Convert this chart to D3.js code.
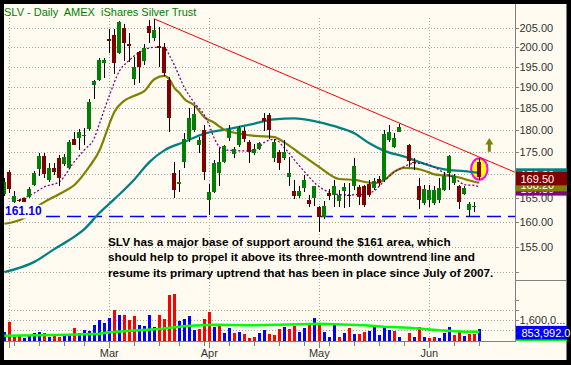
<!DOCTYPE html>
<html>
<head>
<meta charset="utf-8">
<script src="https://cdn.jsdelivr.net/npm/d3@7/dist/d3.min.js"></script>
<style>
html,body{margin:0;padding:0;background:#000;overflow:hidden;}
svg{display:block;font-family:"Liberation Sans",Arial,sans-serif;}
</style>
</head>
<body>
<svg id="chart" width="571" height="365"></svg>
<script>
// ---------------- data ----------------
const titleText = "SLV - Daily  AMEX  iShares Silver Trust";
// daily bars 31 Jan 2008 .. 16 Jun 2008 (index 80 = Memorial Day, empty)
const openP = [165.8,170.6,164.1,164.6,164.9,165.1,167.7,171.2,174.1,168.8,
 171.4,173.6,172.3,171.4,177.8,178.1,178.5,180.1,190.6,191.8,
 196.0,202.2,203.1,198.5,204.9,200.8,192.0,198.9,196.5,205.6,
 202.5,200.4,200.2,191.8,170.3,167.9,172.8,177.8,179.9,176.5,
 179.9,164.6,166.2,170.3,172.8,178.0,174.4,176.5,179.7,177.1,
 174.8,175.6,182.7,183.4,173.6,175.0,173.6,169.5,166.4,165.4,
 167.0,164.5,164.9,163.0,160.9,166.0,165.6,164.4,166.5,165.6,
 167.4,167.2,167.4,167.9,167.0,169.0,168.8,177.6,176.1,179.5,
 null,176.5,172.8,167.4,163.9,164.5,163.9,164.5,166.7,170.3,
 168.1,167.4,165.8,162.5,163.0,172.8];
const highP = [169.2,171.0,166.4,164.8,165.0,167.3,170.8,174.7,174.7,172.5,
 172.5,174.3,174.5,177.6,179.4,180.1,180.4,187.2,191.8,197.2,
 197.4,204.7,204.7,206.8,206.0,203.6,197.6,199.1,200.8,207.1,
 207.4,205.3,201.1,192.5,172.8,171.0,179.2,185.0,185.6,178.4,
 181.1,168.0,173.2,175.8,176.5,181.1,176.1,180.8,180.6,177.6,
 176.8,177.2,183.9,183.9,177.8,175.4,177.6,173.9,168.8,167.5,
 169.9,165.6,167.5,163.2,164.3,166.8,168.8,166.6,168.1,168.1,
 173.6,167.7,167.7,168.8,169.2,169.7,179.9,181.1,179.2,181.3,
 null,176.8,173.6,169.2,167.7,167.7,167.5,169.2,170.6,174.3,
 170.1,167.7,167.4,164.0,164.0,173.6];
const lowP = [165.4,166.0,163.9,164.2,164.0,164.9,167.5,169.7,169.2,168.4,
 169.9,167.5,171.9,171.2,176.5,175.4,176.6,179.7,187.2,191.6,
 192.4,198.5,193.2,198.2,196.5,196.4,190.7,191.1,195.4,201.1,
 201.5,195.0,192.8,179.5,164.9,166.2,171.4,177.2,179.5,174.7,
 168.8,161.4,166.1,167.4,172.5,177.4,173.6,176.1,177.1,172.5,
 174.3,175.4,179.7,177.8,172.8,171.0,173.2,167.4,164.7,164.9,
 166.2,163.0,163.2,157.9,160.6,164.5,163.0,163.0,162.8,163.0,
 166.6,163.5,163.0,165.2,166.6,167.5,168.4,177.1,175.8,179.4,
 null,171.7,171.0,162.7,163.5,163.0,163.5,163.9,166.4,166.6,
 167.7,162.7,165.6,161.0,162.0,168.8];
const closeP = [168.4,166.8,165.4,164.4,164.1,166.8,170.3,174.1,170.1,171.4,
 170.6,169.3,173.9,177.2,176.6,179.4,178.7,186.4,191.6,196.8,
 196.8,201.5,196.0,206.6,201.1,200.3,195.1,195.1,199.7,203.8,
 204.5,199.7,193.5,182.7,166.6,168.4,177.8,182.6,183.6,177.6,
 170.6,166.2,172.6,172.8,176.3,180.2,175.5,180.3,177.8,175.0,
 175.6,177.0,182.0,179.9,177.1,172.5,175.0,170.3,165.4,166.4,
 168.8,163.7,167.4,161.0,163.2,165.4,167.5,165.5,167.3,165.4,
 171.9,165.2,163.5,165.6,168.6,168.2,179.1,179.4,178.0,180.6,
 null,173.0,172.5,164.5,166.8,166.6,166.6,167.0,169.7,174.1,
 169.7,164.1,167.0,163.6,163.2,169.5];
// volume in thousands of shares, and whether the day closed up (blue) or down (red)
const volumeK = [630,1440,230,360,150,360,550,630,550,230,
 310,230,310,450,960,550,800,720,1170,1600,
 1360,1770,2390,1990,1990,1580,1900,1170,1090,1990,
 1010,1990,1660,3600,3690,1500,1660,1900,770,850,
 1660,2250,1040,1170,500,910,500,580,420,150,
 200,500,740,420,360,850,1010,850,1090,580,
 910,1340,1740,1200,580,200,1230,200,520,910,
 420,420,580,690,1060,360,1060,770,690,200,
 0,520,200,1010,200,150,200,150,520,1010,
 360,600,310,450,450,853.992];
const volumeUp = [1,0,0,0,1,1,1,1,0,1, 0,0,1,1,0,1,1,1,1,1, 1,1,0,1,0,0,0,1,1,1,
 1,0,0,0,0,1,1,1,1,0, 0,0,1,0,1,1,0,1,0,0, 0,1,1,0,0,0,1,0,0,1,
 1,0,1,0,1,1,1,0,1,0, 1,0,0,1,1,1,1,1,0,1, 0,0,1,0,1,0,0,1,1,1, 0,0,1,0,0,1];
// moving averages (bar index, value)
const ma50Idx = [0,6,10,13,16,19,22,26,29,32,36,40,45,50,54,58,62,66,70,73,76,80,84,88,92,95];
const ma50 = [150.0,152.0,154.5,156.3,158.5,161.8,164.7,168.9,172.7,175.3,177.2,179.1,180.2,181.4,182.4,182.6,182.0,180.8,179.2,176.9,175.2,173.9,172.3,171.1,170.7,170.3];
const ma20Idx = [0,4,7,11,14,17,19,20,21,22,24,26,28,30,32,33,34,35,36,38,40,42,44,46,50,54,56,59,63,67,70,74,76,78,80,82,84,86,88,90,92,94,95];
const ma20 = [159.6,160.8,163.4,165.8,167.7,171.7,175.2,178.1,181.3,184.1,186.8,188.0,189.1,192.0,192.8,192.0,189.9,188.7,187.2,185.7,182.9,181.6,180.0,179.3,178.6,178.3,177.1,174.7,171.6,169.0,168.8,168.1,168.8,170.6,171.4,171.3,170.8,170.0,169.8,169.6,169.0,168.4,168.2];
const ma10Idx = [3,6,8,11,14,16,18,19,21,23,25,27,30,32,33,34,36,38,40,41,42,44,48,50,52,54,56,58,60,63,65,68,72,74,76,78,80,82,84,86,88,90,92,94,95];
const ma10 = [164.5,166.0,167.3,168.4,172.8,175.4,178.1,181.3,188.0,194.0,196.7,198.7,200.0,200.0,198.0,195.5,190.0,186.3,183.4,181.0,178.0,175.4,175.2,175.2,177.1,177.8,175.9,173.2,170.6,167.3,166.2,165.6,165.7,166.5,168.6,170.5,171.7,172.4,172.4,171.6,170.3,169.2,167.8,167.6,167.3];
const avgVolIdx = [0,13,19,21,26,31,34,37,42,49,55,63,69,72,76,81,84,87,92,95];
const avgVolK = [310,390,470,580,720,850,990,1120,1200,1150,1200,1280,1200,1150,1040,960,850,750,630,630];
// axes
const priceTicks = [150,155,160,165,170,175,180,185,190,195,200,205];
const priceTickShown = [0,1,1,1,0,1,1,1,1,1,1,1];
const volTicksK = [800,1600,2400,3200];
const volTickShown = [0,1,0,0];
const monthIdx = [1,21,41,63,85];
const monthLabels = ["","Mar","Apr","May","Jun"];
const weekIdx = [2,7,12,16,26,31,35,40,45,50,55,60,65,70,75,80,90,95];
// annotations
const supportLevel = 161.10;
const trendA = {i:30, p:207.4}, trendB = {i:95, p:173.8};
const arrowAt = {i:97, from:175.0, to:178.1};
const noteLines = ["SLV has a major base of support around the $161 area, which",
 "should help to propel it above its three-month downtrend line and",
 "resume its primary uptrend that has been in place since July of 2007."];

// ---------------- drawing ----------------
const W = 571, H = 365;
const plotL = 4, plotR = 515, plotT = 4, volBottom = 341;
const cream = "#fffbf0";
const svg = d3.select("#chart");
svg.append("rect").attr("width", W).attr("height", H).attr("fill", "#000");
svg.append("rect").attr("x", 4).attr("y", 4).attr("width", 562.5).attr("height", 356).attr("fill", cream);

const x = d3.scaleLinear().domain([0, 100]).range([4.33, 504.33]);
const y = d3.scaleLog().domain([155, 205]).range([246.6, 28]);
const yv = d3.scaleLinear().domain([0, 3200]).range([339.5, 300]);
const px = i => Math.round(x(i));

const defs = svg.append("defs");
defs.append("clipPath").attr("id", "plotClip")
  .append("rect").attr("x", plotL).attr("y", plotT).attr("width", plotR - plotL).attr("height", volBottom - plotT);

// grid
const grid = svg.append("g").attr("stroke", "#a4a4a4").attr("stroke-width", 1)
  .attr("stroke-dasharray", "1,2").attr("shape-rendering", "crispEdges");
priceTicks.forEach(t => { const yy = Math.round(y(t)) + 0.5;
  grid.append("line").attr("x1", 8).attr("x2", plotR).attr("y1", yy).attr("y2", yy); });
volTicksK.slice(0, 3).forEach(t => { const yy = Math.round(yv(t)) + 0.5;
  grid.append("line").attr("x1", 8).attr("x2", plotR).attr("y1", yy).attr("y2", yy); });
monthIdx.forEach(i => { const xx = px(i) + 0.5;
  grid.append("line").attr("x1", xx).attr("x2", xx).attr("y1", 18).attr("y2", volBottom); });

const g = svg.append("g").attr("clip-path", "url(#plotClip)");

// volume
const vol = volumeK.map((v, i) => ({i, v, up: volumeUp[i]})).filter(d => d.v > 0);
g.append("g").attr("shape-rendering", "crispEdges").selectAll("rect").data(vol).join("rect")
  .attr("x", d => px(d.i) - 1).attr("width", 3)
  .attr("y", d => Math.round(yv(d.v))).attr("height", d => volBottom - Math.round(yv(d.v)))
  .attr("fill", d => d.up ? "#0000ff" : "#ff0000");
g.append("path").datum(avgVolIdx.map((i, k) => [i, avgVolK[k]]))
  .attr("d", d3.line().x(d => x(d[0])).y(d => yv(d[1])))
  .attr("fill", "none").attr("stroke", "#00ff00").attr("stroke-width", 2.5);

// support line
const ys = y(supportLevel);
g.append("line").attr("x1", plotL).attr("x2", plotR).attr("y1", ys).attr("y2", ys)
  .attr("stroke", "#0000ff").attr("stroke-width", 1.5).attr("stroke-dasharray", "14,7");

// highlight ellipse around last bar
const last = closeP.length - 1;
g.append("ellipse").attr("cx", x(last)).attr("cy", (y(highP[last]) + y(lowP[last])) / 2)
  .attr("rx", 8.2).attr("ry", 10.8).attr("fill", "#ffff00").attr("stroke", "#ff00ff").attr("stroke-width", 2);

// moving averages
const maLine = d3.line().x(d => x(d[0])).y(d => y(d[1])).curve(d3.curveMonotoneX);
g.append("path").datum(ma50Idx.map((i, k) => [i, ma50[k]])).attr("d", maLine)
  .attr("fill", "none").attr("stroke", "#008080").attr("stroke-width", 2.3);
g.append("path").datum(ma20Idx.map((i, k) => [i, ma20[k]])).attr("d", maLine)
  .attr("fill", "none").attr("stroke", "#808000").attr("stroke-width", 2.2);
g.append("path").datum(ma10Idx.map((i, k) => [i, ma10[k]])).attr("d", maLine)
  .attr("fill", "none").attr("stroke", "#800080").attr("stroke-width", 1.3).attr("stroke-dasharray", "2,2");

// candles
const bars = closeP.map((c, i) => ({i, o: openP[i], h: highP[i], l: lowP[i], c})).filter(d => d.c !== null);
const cg = g.append("g").attr("shape-rendering", "crispEdges");
cg.selectAll("rect.w").data(bars).join("rect").attr("class", "w")
  .attr("x", d => px(d.i)).attr("width", 1)
  .attr("y", d => Math.round(y(d.h))).attr("height", d => Math.max(1, Math.round(y(d.l)) - Math.round(y(d.h))))
  .attr("fill", "#000");
cg.selectAll("rect.b").data(bars).join("rect").attr("class", "b")
  .attr("x", d => px(d.i) - 2).attr("width", 4)
  .attr("y", d => Math.round(y(Math.max(d.o, d.c))))
  .attr("height", d => Math.max(1, Math.round(y(Math.min(d.o, d.c))) - Math.round(y(Math.max(d.o, d.c)))))
  .attr("fill", d => d.c >= d.o ? "#008000" : "#800000");

// trend line extended to the axis
const tx1 = x(trendA.i), ty1 = y(trendA.p), tx2 = x(trendB.i), ty2 = y(trendB.p);
const slope = (ty2 - ty1) / (tx2 - tx1);
g.append("line").attr("x1", tx1).attr("y1", ty1).attr("x2", plotR).attr("y2", ty1 + slope * (plotR - tx1))
  .attr("stroke", "#ff0000").attr("stroke-width", 1);

// up arrow
const ax = x(arrowAt.i), aTop = y(arrowAt.to), aBot = y(arrowAt.from);
g.append("rect").attr("x", ax - 1.5).attr("y", aTop + 5).attr("width", 3).attr("height", aBot - aTop - 5).attr("fill", "#808000");
g.append("path").attr("d", `M${ax},${aTop}L${ax + 4},${aTop + 6.5}L${ax - 4},${aTop + 6.5}Z`).attr("fill", "#808000");

// support label
const supTxt = d3.format(".2f")(supportLevel);
svg.append("rect").attr("x", 4).attr("y", ys - 11.5).attr("width", 38).attr("height", 13.5).attr("fill", cream);
svg.append("text").attr("x", 5).attr("y", ys - 1.5).attr("font-size", "12px").attr("font-weight", "bold")
  .attr("fill", "#0000ff").text(supTxt);

// right axis
const axisC = "#808080";
svg.append("line").attr("x1", plotR + 0.5).attr("x2", plotR + 0.5).attr("y1", plotT).attr("y2", volBottom + 1)
  .attr("stroke", axisC);
svg.append("line").attr("x1", plotR).attr("x2", 566).attr("y1", 280.5).attr("y2", 280.5).attr("stroke", axisC);
svg.append("line").attr("x1", plotL).attr("x2", plotR).attr("y1", volBottom + 0.5).attr("y2", volBottom + 0.5).attr("stroke", axisC);
priceTicks.forEach((t, k) => {
  const yy = Math.round(y(t)) + 0.5;
  svg.append("line").attr("x1", plotR).attr("x2", plotR + 4).attr("y1", yy).attr("y2", yy).attr("stroke", axisC);
  if (priceTickShown[k]) svg.append("text").attr("x", 519.5).attr("y", y(t) + 4).attr("font-size", "11px")
    .attr("fill", "#333").text(d3.format(".2f")(t));
});
volTicksK.forEach((t, k) => {
  const yy = Math.round(yv(t)) + 0.5;
  svg.append("line").attr("x1", plotR).attr("x2", plotR + 4).attr("y1", yy).attr("y2", yy).attr("stroke", axisC);
  if (volTickShown[k]) svg.append("text").attr("x", 519.5).attr("y", yv(t) + 4).attr("font-size", "11px")
    .attr("fill", "#333").text(d3.format(",")(t * 1000).slice(0, 7) + "...");
});

// last-value labels on the right (stacked; each text clipped to the part of its box left visible)
const valLabels = [
  {v: ma10[ma10.length - 1], c: "#800080"},
  {v: ma20[ma20.length - 1], c: "#808000"},
  {v: ma50[ma50.length - 1], c: "#008080"},
  {v: closeP[last], c: "#800000"}
].map(d => ({...d, cy: y(d.v) + 2}));
valLabels.forEach((d, k) => {
  let top = d.cy - 6.7, bot = d.cy + 6.7;
  valLabels.slice(k + 1).forEach(o => {
    const ot = o.cy - 6.7, ob = o.cy + 6.7;
    if (ot <= top && ob > top) top = Math.max(top, ob);
    if (ot < bot && ob >= bot) bot = Math.min(bot, ot);
  });
  svg.append("rect").attr("x", plotR + 1).attr("y", d.cy - 6.7).attr("width", 51).attr("height", 13.4).attr("fill", d.c);
  if (bot - top > 1) {
    const id = "lblClip" + k;
    defs.append("clipPath").attr("id", id).append("rect").attr("x", plotR + 1).attr("y", top).attr("width", 51).attr("height", bot - top);
    svg.append("text").attr("clip-path", `url(#${id})`).attr("x", 520.5).attr("y", d.cy + 4)
      .attr("font-size", "11px").attr("fill", "#fff").text(d3.format(".2f")(d.v));
  }
});
svg.append("rect").attr("x", plotR + 1).attr("y", yv(0) - 12).attr("width", 51).attr("height", 13.5).attr("fill", "#00ff00");
svg.append("rect").attr("x", plotR + 1).attr("y", yv(0) - 13.6).attr("width", 51).attr("height", 13.6).attr("fill", "#0000ff");
svg.append("text").attr("x", 521.5).attr("y", yv(0) - 2.8).attr("font-size", "11px").attr("fill", "#fff")
  .text(d3.format(",.1f")(volumeK[last] * 1000));

// x axis ticks and labels
weekIdx.forEach(i => svg.append("line").attr("x1", px(i) + 0.5).attr("x2", px(i) + 0.5)
  .attr("y1", volBottom + 1).attr("y2", volBottom + 5).attr("stroke", axisC));
monthIdx.forEach((i, k) => {
  svg.append("line").attr("x1", px(i) + 0.5).attr("x2", px(i) + 0.5)
    .attr("y1", volBottom + 1).attr("y2", volBottom + 7).attr("stroke", axisC);
  if (monthLabels[k]) svg.append("text").attr("x", x(i)).attr("y", 357).attr("text-anchor", "middle")
    .attr("font-size", "11px").attr("fill", "#333").text(monthLabels[k]);
});

// title
svg.append("text").attr("x", 4).attr("y", 15.5).attr("font-size", "11px").attr("fill", "#008000")
  .attr("xml:space", "preserve").style("white-space", "pre").text(titleText);

// note
noteLines.forEach((t, k) => svg.append("text").attr("x", 108).attr("y", 245.5 + k * 15.5)
  .attr("font-size", "11.75px").attr("font-weight", "bold").attr("fill", "#000").text(t));
</script>
</body>
</html>
